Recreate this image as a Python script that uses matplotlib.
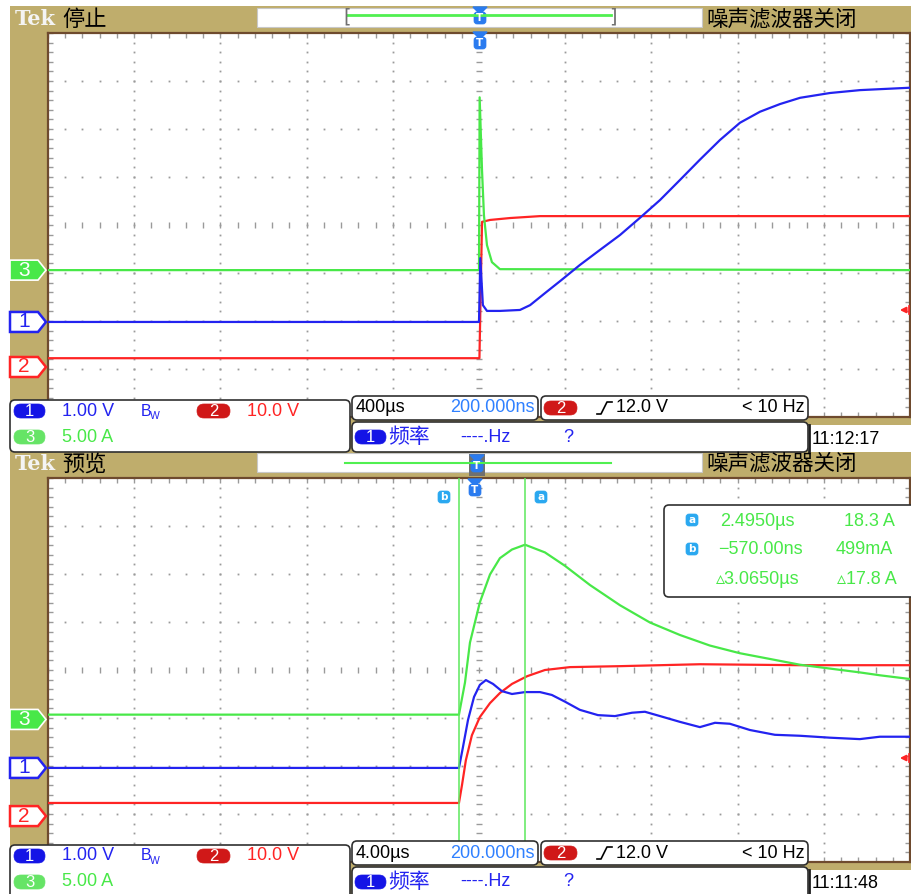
import matplotlib
matplotlib.use("Agg")
import matplotlib.pyplot as plt
from matplotlib import font_manager
from matplotlib.patches import Rectangle, FancyBboxPatch, Polygon
import numpy as np

W, H = 912, 894

# ---- top capture: 400 us/div (time in us) ----
top_t_ch1 = [-2000, 0, 6, 18, 37, 97, 190, 237, 306, 376, 469, 561, 654, 747, 840,
             933, 1025, 1118, 1211, 1304, 1397, 1490, 1629, 1768, 2000]
top_v_ch1 = [0, 0, 1.33, 0.35, 0.23, 0.23, 0.25, 0.35, 0.6, 0.85, 1.19, 1.5, 1.81, 2.17,
             2.54, 2.96, 3.38, 3.79, 4.15, 4.38, 4.54, 4.67, 4.77, 4.83, 4.88]
top_t_ch2 = [-2000, 2, 14, 51, 144, 283, 2000]
top_v_ch2 = [1.0, 1.0, 29.4, 29.8, 30.2, 30.6, 30.6]
top_t_ch3 = [-2000, 0, 3, 14, 23, 37, 60, 97, 2000]
top_i_ch3 = [0, 0, 18.0, 10.4, 5.7, 2.6, 0.83, 0.1, 0]

# ---- bottom capture: 4 us/div (time in us) ----
bot_t_ch1 = [-19.64, -0.57, -0.39, -0.15, 0.13, 0.40, 0.68, 1.01, 1.42, 1.89, 2.50, 3.19,
             3.74, 4.35, 5.04, 5.88, 6.67, 7.46, 8.06, 8.76, 9.68, 10.61, 11.31, 12.0,
             12.93, 14.09, 15.25, 16.64, 18.03, 18.96, 20.4]
bot_v_ch1 = [0, 0, 0.42, 1.0, 1.48, 1.73, 1.83, 1.75, 1.6, 1.54, 1.58, 1.58, 1.52, 1.38,
             1.21, 1.1, 1.08, 1.15, 1.17, 1.08, 0.96, 0.85, 0.94, 0.92, 0.79, 0.69, 0.67,
             0.63, 0.60, 0.65, 0.65]
bot_t_ch2 = [-19.64, -0.57, -0.43, -0.25, 0.03, 0.40, 0.87, 1.33, 1.89, 2.59, 3.42, 4.58,
             6.90, 10.61, 15.25, 20.4]
bot_v_ch2 = [1.9, 1.9, 5.6, 10.8, 16.0, 19.8, 22.7, 24.8, 26.7, 28.3, 29.6, 30.2, 30.4,
             30.8, 30.6, 30.6]
bot_t_ch3 = [-19.64, -0.57, -0.29, -0.06, 0.40, 0.87, 1.33, 1.89, 2.495, 3.42, 4.35, 5.51,
             6.90, 8.29, 9.68, 11.07, 12.46, 13.86, 15.25, 16.64, 18.03, 18.96, 20.4]
bot_i_ch3 = [0.5, 0.5, 3.85, 8.0, 12.2, 15.1, 16.8, 17.7, 18.2, 17.4, 16.0, 14.0, 11.9,
             10.1, 8.8, 7.7, 6.9, 6.3, 5.7, 5.3, 4.9, 4.6, 4.2]

cursor_a, cursor_b = 2.495, -0.57   # us

# channel scale (units/div) and ground position (div from centre)
scales = {1: 1.0, 2: 10.0, 3: 5.0}
top_pos = {1: -2.02, 2: -2.875, 3: -0.94}
bot_pos = {1: -2.04, 2: -2.96, 3: -1.03}

TAN = '#BFAD6C'
BROWN = '#6E4A2E'
DOT = '#9A9A9A'
BLUE = '#2323F0'
RED = '#FF2424'
GREEN = '#48E848'
LBLUE = '#2F80FF'
ICON = '#2A7BEF'


def pick(names):
    for n in names:
        try:
            font_manager.findfont(n, fallback_to_default=False)
            return n
        except ValueError:
            pass
    return 'DejaVu Sans'


NARROW = pick(['Liberation Sans Narrow', 'DejaVu Sans Condensed', 'Liberation Sans'])
FAM = [NARROW, 'Noto Sans CJK SC', 'DejaVu Sans']
CJK = ['Noto Sans CJK SC', 'DejaVu Sans']

fig = plt.figure(figsize=(W / 100, H / 100), dpi=100)


def frac(x0, y0, x1, y1):
    return [x0 / W, 1 - y1 / H, (x1 - x0) / W, (y1 - y0) / H]


bg = fig.add_axes([0, 0, 1, 1], zorder=0)
fg = fig.add_axes([0, 0, 1, 1], zorder=10)
for a in (bg, fg):
    a.set_xlim(0, W)
    a.set_ylim(H, 0)
    a.axis('off')
fg.patch.set_alpha(0)


def txt(x, y, s, size=13, color='black', ha='left', family=None, **kw):
    fg.text(x, y, s, fontsize=size, color=color, ha=ha, va='center',
            family=family or FAM, **kw)


def rbox(x, y, w, h, r=5, fc='white', ec='#303030', lw=1.2):
    fg.add_patch(FancyBboxPatch((x, y), w, h, boxstyle=f'round,pad=0,rounding_size={r}',
                                fc=fc, ec=ec, lw=lw))


def pill(x, y, w, s, fc):
    rbox(x, y - 7, w, 14, r=7, fc=fc, ec=fc, lw=0.5)
    txt(x + w / 2, y + 0.5, s, size=12, color='white', ha='center')


def trig_icon(cx, top):
    fg.add_patch(Polygon([(cx - 7, top), (cx + 7, top), (cx, top + 7)], closed=True,
                         fc=ICON, ec=ICON))
    rbox(cx - 6, top + 5, 12, 12, r=3, fc=ICON, ec=ICON, lw=0.5)
    fg.text(cx, top + 11, 'T', fontsize=7.5, color='white', ha='center', va='center',
            weight='bold', family='DejaVu Sans')


def chan_label(y, n, col, filled):
    pts = [(10, y - 10), (38, y - 10), (46, y), (38, y + 10), (10, y + 10)]
    if filled:
        fg.add_patch(Polygon(pts, closed=True, fc=col, ec='white', lw=1.2))
        txt(24, y, n, size=15, color='white', ha='center')
    else:
        fg.add_patch(Polygon(pts, closed=True, fc='white', ec=col, lw=1.8))
        txt(24, y, n, size=15, color=col, ha='center')


def graticule(rect):
    a = fig.add_axes(rect, zorder=2)
    a.set_xlim(-5, 5)
    a.set_ylim(-4, 4)
    a.set_xticks([])
    a.set_yticks([])
    a.set_facecolor('white')
    for s in a.spines.values():
        s.set_color(BROWN)
        s.set_linewidth(1.6)
    fx = np.arange(-5, 5.01, 0.2)
    fy = np.arange(-4, 4.01, 0.2)
    for xv in range(-4, 5):
        if xv:
            a.plot(np.full_like(fy, xv), fy, ls='none', marker='s', ms=1.3, color=DOT, mew=0)
    for yv in range(-3, 4):
        if yv:
            a.plot(fx, np.full_like(fx, yv), ls='none', marker='s', ms=1.3, color=DOT, mew=0)
    a.plot(np.zeros_like(fy), fy, ls='none', marker='_', ms=5, color=DOT, mew=1)
    a.plot(fx, np.zeros_like(fx), ls='none', marker='|', ms=5, color=DOT, mew=1)
    for yv in (-4, 4):
        a.plot(fx, np.full_like(fx, yv), ls='none', marker='|', ms=7, color=DOT, mew=1)
    for xv in (-5, 5):
        a.plot(np.full_like(fy, xv), fy, ls='none', marker='_', ms=7, color=DOT, mew=1)
    return a


def chan_axes(rect, xlim, pos, scale):
    a = fig.add_axes(rect, zorder=3)
    a.set_xlim(xlim)
    a.set_ylim((-4 - pos) * scale, (4 - pos) * scale)
    a.axis('off')
    a.patch.set_alpha(0)
    return a


def screen(dy, status, stamp, tdiv, xlim, pos, traces, arrow_y):
    # header bar and left strip
    bg.add_patch(Rectangle((10, 6 + dy), W - 10, 446, fc=TAN, ec='none'))
    fg.text(15, 19 + dy, 'Tek', fontsize=15, color='#F4F4F4', weight='bold',
            family='DejaVu Serif', va='center')
    txt(62, 19 + dy, status, size=16, family=CJK)
    bg.add_patch(Rectangle((257, 8 + dy), 445, 19, fc='white', ec='#C8C8C8', lw=0.8))
    txt(706, 19 + dy, '噪声滤波器关闭', size=15.5, family=CJK)

    rect = frac(48, 33 + dy, 910, 417 + dy)
    graticule(rect)
    for ch, (tt, vv, col) in traces.items():
        a = chan_axes(rect, xlim, pos[ch], scales[ch])
        a.plot(tt, vv, color=col, lw=1.6, solid_joinstyle='round')

    # channel ground markers
    for ch, col, filled in ((3, GREEN, True), (1, BLUE, False), (2, RED, False)):
        y = 225 + dy - pos[ch] * 48
        chan_label(y + (4 if ch == 2 else 0), str(ch), col, filled)

    # bottom readout boxes
    rbox(10, 400 + dy, 340, 60 if dy else 52)
    pill(14, 411 + dy, 31, '1', '#1414E6')
    txt(62, 411 + dy, '1.00 V', color=BLUE)
    txt(141, 411 + dy, 'B', color=BLUE, size=11.5)
    txt(150, 416 + dy, 'W', color=BLUE, size=7.5)
    pill(197, 411 + dy, 33, '2', '#D01818')
    txt(247, 411 + dy, '10.0 V', color=RED)
    pill(14, 437 + dy, 31, '3', '#66E466')
    txt(62, 437 + dy, '5.00 A', color=GREEN)

    rbox(352, 396 + dy, 186, 24)
    txt(356, 408 + dy, tdiv)
    txt(535, 408 + dy, '200.000ns', color=LBLUE, ha='right')
    rbox(541, 396 + dy, 267, 24)
    pill(544, 408 + dy, 33, '2', '#D01818')
    fg.plot([597, 601, 607, 612], [414 + dy, 414 + dy, 402 + dy, 402 + dy], color='black', lw=1.2)
    txt(616, 408 + dy, '12.0 V')
    txt(805, 408 + dy, '< 10 Hz', ha='right')
    rbox(352, 422 + dy, 456, 40 if dy else 30)
    pill(355, 437 + dy, 31, '1', '#1414E6')
    txt(388, 437 + dy, '频率', color=BLUE, size=15, family=CJK)
    txt(460, 437 + dy, '----.Hz', color=BLUE)
    txt(563, 437 + dy, '?', color=BLUE)
    fg.add_patch(Rectangle((808, 425 + dy), 110, 40 if dy else 27, fc='white', ec='none'))
    fg.plot([809, 809], [425 + dy, 452 + dy + (15 if dy else 0)], color='#202020', lw=2)
    txt(812, 439 + dy, stamp)

    # trigger level arrow at right
    fg.annotate('', xy=(897, arrow_y), xytext=(909, arrow_y),
                arrowprops=dict(arrowstyle='-|>', color=RED, lw=1.5, mutation_scale=8))
    fg.plot([909, 909], [arrow_y - 4, arrow_y + 4], color=RED, lw=1.2)


screen(0, '停止', '11:12:17', '400µs', (-2000, 2000), top_pos,
       {2: (top_t_ch2, top_v_ch2, RED), 3: (top_t_ch3, top_i_ch3, GREEN),
        1: (top_t_ch1, top_v_ch1, BLUE)}, 310)
screen(445, '预览', '11:11:48', '4.00µs', (-19.64, 20.36), bot_pos,
       {2: (bot_t_ch2, bot_v_ch2, RED), 3: (bot_t_ch3, bot_i_ch3, GREEN),
        1: (bot_t_ch1, bot_v_ch1, BLUE)}, 758)

# top header: record window bracket and trigger markers
fg.plot([347, 611], [15, 15], color='#50F050', lw=2)
txt(343, 17, '[', color='#707070', size=14, family='DejaVu Sans')
txt(609, 17, ']', color='#707070', size=14, family='DejaVu Sans')
trig_icon(480, 7)
trig_icon(480, 32)

# bottom header and cursors
fg.plot([345, 611], [463, 463], color='#50F050', lw=1.5)
fg.add_patch(Rectangle((469, 454), 16, 22, fc='#707070', ec='none'))
trig_icon(477, 455)
trig_icon(475, 479)

cur_ax = chan_axes(frac(48, 478, 910, 862), (-19.64, 20.36), 0, 1)
for t in (cursor_a, cursor_b):
    cur_ax.axvline(t, color='#5CE85C', lw=1.1)


def letter_icon(x, y, s):
    rbox(x - 6, y - 6, 12, 12, r=3, fc='#2AA8F0', ec='#2AA8F0', lw=0.5)
    fg.text(x, y, s, fontsize=7.5, color='white', ha='center', va='center', weight='bold',
            family='DejaVu Sans')


letter_icon(444, 497, 'b')
letter_icon(541, 497, 'a')

rbox(664, 505, 260, 92)
letter_icon(692, 520, 'a')
letter_icon(692, 549, 'b')
txt(720, 521, '2.4950µs', color=GREEN)
txt(895, 521, '18.3 A', color=GREEN, ha='right')
txt(718, 550, '\u2212570.00ns', color=GREEN)
txt(893, 550, '499mA', color=GREEN, ha='right')
txt(716, 579, '\u25b53.0650µs', color=GREEN)
txt(897, 579, '\u25b517.8 A', color=GREEN, ha='right')

fig.savefig('out.png', dpi=100)
